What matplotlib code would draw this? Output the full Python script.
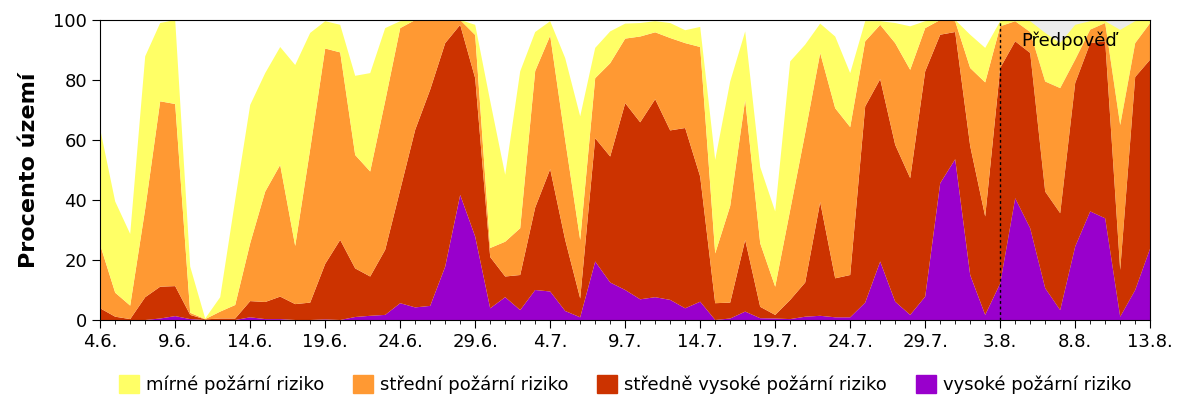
import numpy as np
import matplotlib
matplotlib.use("Agg")
import matplotlib.pyplot as plt
from matplotlib.patches import Patch

plt.rcParams['font.family'] = ['DejaVu Sans']

# dny 4.6. - 13.8.
tick_labels = ['4.6.', '9.6.', '14.6.', '19.6.', '24.6.', '29.6.', '4.7.', '9.7.',
               '14.7.', '19.7.', '24.7.', '29.7.', '3.8.', '8.8.', '13.8.']
forecast_start = 60  # 3.8.

vysoke = [0, 0, 0, 0, 0.5, 1.3, 0.3, 0, 0, 0,
          0.9, 0.3, 0.3, 0, 0, 0.2, 0, 1, 1.4, 1.7,
          5.6, 4.2, 4.7, 17.8, 41.7, 27.8, 3.9, 7.6, 3.3, 10,
          9.5, 3, 0.9, 19.5, 12.5, 10, 6.9, 7.6, 6.7, 3.9,
          6.1, 0, 0.5, 2.8, 0.6, 0.5, 0.3, 1.1, 1.4, 0.9,
          0.9, 5.8, 19.5, 6.1, 1.7, 7.8, 45.6, 53.6, 15, 1.7,
          12.2, 40.6, 30.6, 10.6, 3.3, 24.5, 36.2, 33.9, 1.1, 10, 23.9]

stredne_vysoke = [3.9, 1.1, 0.3, 7.6, 10.6, 10.0, 1.4, 0.2, 0.5, 0.5,
                  5.4, 5.7, 7.5, 5.3, 5.8, 18.5, 26.7, 16.2, 13.1, 21.7,
                  37.8, 59.2, 72.1, 74.5, 56.7, 52.8, 17.1, 6.9, 11.7, 27.5,
                  40.8, 23.7, 6.3, 41.1, 42.0, 62.3, 59.0, 66.0, 56.5, 60.1,
                  41.7, 5.6, 5.3, 23.9, 3.8, 1.2, 6.4, 11.4, 37.9, 13.0,
                  14.1, 65.4, 60.8, 52.3, 45.6, 75.1, 49.5, 42.4, 43.0, 32.8,
                  71.8, 52.3, 58.4, 32.2, 32.3, 54.5, 56.1, 59.0, 15.6, 71.0, 62.9]

stredni = [21.1, 8.0, 4.5, 29.4, 61.8, 60.7, 0.7, 0.1, 2.3, 4.5,
           19.3, 36.8, 43.9, 19.4, 51.2, 71.8, 62.5, 37.8, 35.0, 49.6,
           53.9, 36.6, 23.2, 7.7, 1.6, 14.4, 3.0, 11.6, 15.6, 45.5,
           44.5, 33.3, 19.5, 20.0, 31.1, 21.5, 28.6, 22.3, 30.8, 28.3,
           43.2, 16.6, 32.2, 46.7, 21.2, 9.4, 30.0, 49.8, 49.7, 56.7,
           49.3, 21.7, 18.1, 33.9, 36.1, 14.4, 4.9, 3.6, 26.0, 44.7,
           13.9, 6.7, 7.0, 36.7, 41.7, 7.8, 4.5, 6.1, 48.3, 11.3, 12.2]

mirne = [38.6, 30.4, 23.9, 50.9, 26.1, 28.0, 15.4, 0.2, 4.8, 35.0,
         46.1, 39.5, 39.3, 60.3, 38.7, 9.1, 9.2, 26.4, 32.8, 24.3,
         2.3, 0, 0, 0, 0, 3.4, 49.0, 22.3, 52.3, 13.0,
         4.8, 27.3, 41.2, 10.1, 10.6, 5.0, 4.5, 3.7, 5.0, 4.3,
         6.7, 31.2, 41.5, 22.8, 25.4, 25.1, 49.5, 29.5, 9.8, 23.9,
         18.0, 6.7, 1.2, 6.7, 14.5, 2.3, 0, 0.4, 11.1, 11.5,
         1.7, 0.4, 3.6, 16.2, 15.0, 11.6, 2.8, 0.6, 31.7, 7.3, 1.0]

labels = ['mírné požární riziko', 'střední požární riziko',
          'středně vysoké požární riziko', 'vysoké požární riziko']
colors = ['#FFFF66', '#FF9933', '#CC3300', '#9900CC']

days = np.arange(len(vysoke))

fig = plt.figure(figsize=(12, 4), dpi=100)
ax = fig.add_axes([0.0835, 0.2, 0.875, 0.75])

# predpoved - sede pozadi
ax.axvspan(forecast_start, days[-1], color='#EBEBEB', zorder=0, lw=0)

ax.stackplot(days, vysoke, stredne_vysoke, stredni, mirne,
             colors=colors[::-1], lw=0, zorder=1)

ax.axvline(forecast_start, color='black', ls=(0, (2, 2)), lw=1, zorder=3)
ax.text(forecast_start + 1.4, 93, 'Předpověď', fontsize=13, va='center', zorder=4)

ax.set_xlim(0, days[-1])
ax.set_ylim(0, 100)
ax.set_xticks(days[::5])
ax.set_xticklabels(tick_labels)
ax.set_xticks(days, minor=True)
ax.set_yticks([0, 20, 40, 60, 80, 100])
ax.tick_params(axis='both', which='major', labelsize=13, length=6, direction='out')
ax.tick_params(axis='x', which='minor', length=3)
ax.set_ylabel('Procento území', fontsize=16, fontweight='bold', labelpad=10)

handles = [Patch(color=c) for c in colors]
ax.legend(handles, labels, loc='upper center', bbox_to_anchor=(0.5, -0.13),
          ncol=4, frameon=False, fontsize=13, handlelength=1.1, handleheight=1.1,
          handletextpad=0.4, columnspacing=1.6)

fig.savefig('out.png', dpi=100)
